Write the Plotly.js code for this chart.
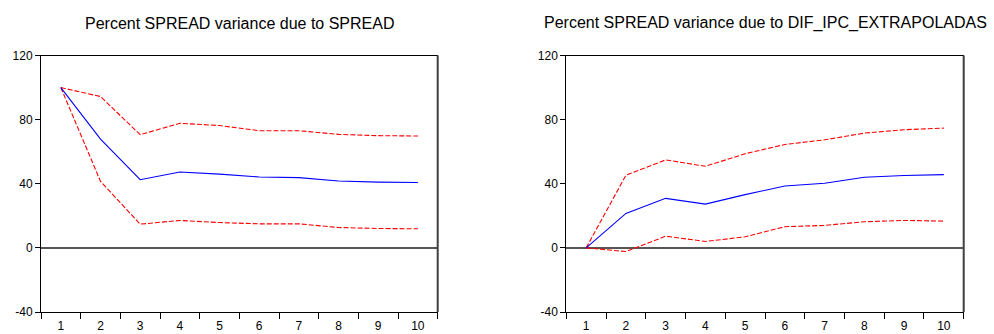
<!DOCTYPE html>
<html>
<head>
<meta charset="utf-8">
<script src="https://cdn.plot.ly/plotly-3.0.1.min.js"></script>
<style>html,body{margin:0;padding:0;background:#fff;}#chart{width:994px;height:334px;}</style>
</head>
<body>
<div id="chart"></div>
<script>
const periods = [1,2,3,4,5,6,7,8,9,10];
const yTicks = [-40,0,40,80,120];

// Panel 1: Percent SPREAD variance due to SPREAD
const spreadMid   = [100, 67.9, 42.5, 47.3, 46.0, 44.2, 43.8, 41.7, 41.0, 40.8];
const spreadUpper = [100, 94.4, 70.6, 77.7, 76.3, 73.1, 73.1, 70.8, 70.0, 69.8];
const spreadLower = [100, 41.5, 14.8, 17.1, 15.8, 15.0, 15.0, 12.7, 12.1, 11.9];

// Panel 2: Percent SPREAD variance due to DIF_IPC_EXTRAPOLADAS
const difMid   = [0, 21.5, 30.9, 27.3, 33.2, 38.6, 40.3, 44.1, 45.1, 45.7];
const difUpper = [0, 45.3, 54.9, 50.9, 58.7, 64.5, 67.4, 71.6, 73.7, 74.7];
const difLower = [0, -2.3, 7.3, 4.0, 6.9, 13.2, 14.0, 16.3, 17.1, 16.7];

const titles = ["Percent SPREAD variance due to SPREAD",
                "Percent SPREAD variance due to DIF_IPC_EXTRAPOLADAS"];

const font = "Liberation Sans, Arial, sans-serif";
const blue = {color:'#0000FF', width:1.1};
const red = {color:'#FF0000', width:1.1, dash:'5px,2px'};

function tr(y, line, xa, ya){
  return {x:periods, y:y, type:'scatter', mode:'lines', line:line, xaxis:xa, yaxis:ya, hoverinfo:'skip', showlegend:false};
}

const data = [
  tr(spreadUpper, red, 'x', 'y'),
  tr(spreadLower, red, 'x', 'y'),
  tr(spreadMid, blue, 'x', 'y'),
  tr(difUpper, red, 'x2', 'y2'),
  tr(difLower, red, 'x2', 'y2'),
  tr(difMid, blue, 'x2', 'y2')
];

const yDom = [1-312/334, 1-55.5/334];
const minorVals = [0.5,1.5,2.5,3.5,4.5,5.5,6.5,7.5,8.5,9.5,10.5];

function xAxis(dom, anchor){
  return {
    domain: dom, anchor: anchor, range:[0.5,10.5], fixedrange:true,
    tickmode:'array', tickvals: periods, ticktext: periods.map(String),
    ticks:'outside', ticklen:3, tickcolor:'rgba(0,0,0,0)',
    minor:{tickmode:'array', tickvals:minorVals, ticks:'outside', ticklen:6, tickwidth:1, tickcolor:'#000', showgrid:false},
    showline:true, linecolor:'#000', linewidth:1, mirror:true,
    showgrid:false, zeroline:false,
    tickfont:{family:font, size:12, color:'#000'}
  };
}
function yAxis(anchor){
  return {
    domain: yDom, anchor: anchor, range:[-40,120], fixedrange:true,
    tickmode:'array', tickvals: yTicks, ticktext: yTicks.map(String),
    ticks:'outside', ticklen:5, tickcolor:'#000', tickwidth:1,
    showline:true, linecolor:'#000', linewidth:1,
    showgrid:false, zeroline:true, zerolinecolor:'#555', zerolinewidth:1.5,
    tickfont:{family:font, size:12, color:'#000'}
  };
}

const xd1 = [41/994, 437.7/994];
const xd2 = [566.3/994, 963.7/994];

const layout = {
  width:994, height:334,
  margin:{l:0, r:0, t:0, b:0},
  paper_bgcolor:'#fff', plot_bgcolor:'#fff',
  showlegend:false,
  xaxis: xAxis(xd1, 'y'),
  yaxis: yAxis('x'),
  xaxis2: xAxis(xd2, 'y2'),
  yaxis2: yAxis('x2'),
  shapes:[
    {type:'line', xref:'x domain', yref:'y domain', x0:1, x1:1, y0:0, y1:1, line:{color:'#404040', width:2}},
    {type:'line', xref:'x2 domain', yref:'y2 domain', x0:1, x1:1, y0:0, y1:1, line:{color:'#404040', width:2}}
  ],
  annotations:[
    {text:titles[0], xref:'paper', yref:'paper', x:(xd1[0]+xd1[1])/2, y:1-23/334, xanchor:'center', yanchor:'middle', showarrow:false, font:{family:font, size:16, color:'#000'}},
    {text:titles[1], xref:'paper', yref:'paper', x:(xd2[0]+xd2[1])/2, y:1-23/334, xanchor:'center', yanchor:'middle', showarrow:false, font:{family:font, size:16, color:'#000'}}
  ]
};

Plotly.newPlot('chart', data, layout, {staticPlot:true, displayModeBar:false});
</script>
</body>
</html>
